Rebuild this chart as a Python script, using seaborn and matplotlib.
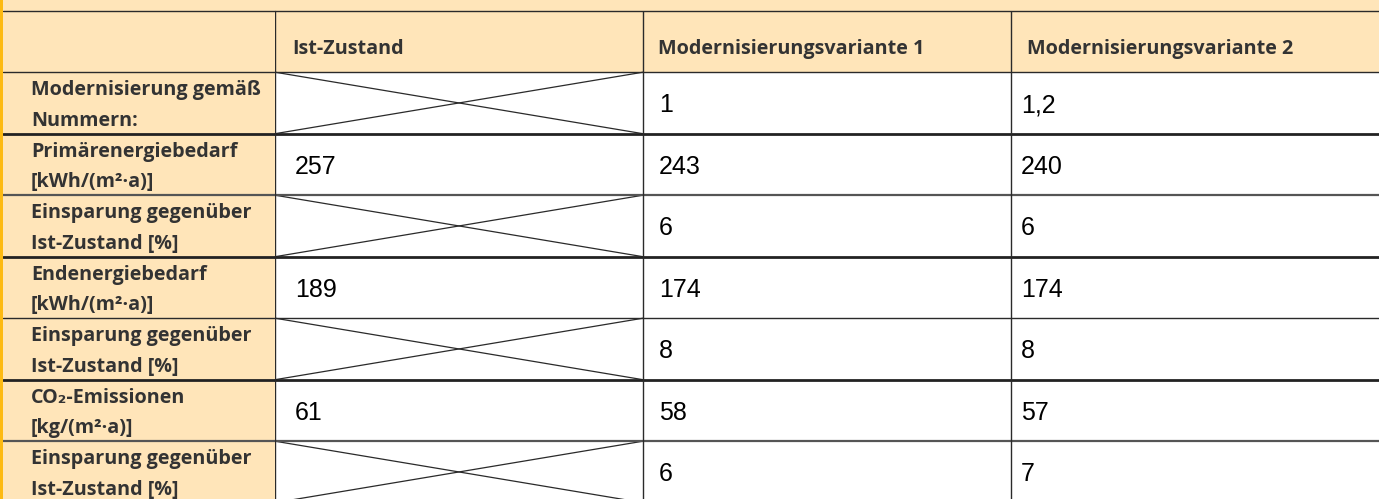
import numpy as np
import pandas as pd
import matplotlib
matplotlib.use("Agg")
import matplotlib.pyplot as plt
from matplotlib.colors import ListedColormap
from matplotlib.patches import Rectangle
import seaborn as sns

# Table content
columns = ["Ist-Zustand", "Modernisierungsvariante 1", "Modernisierungsvariante 2"]
row_labels = [
    "Modernisierung gemäß\nNummern:",
    "Primärenergiebedarf\n[kWh/(m²·a)]",
    "Einsparung gegenüber\nIst-Zustand [%]",
    "Endenergiebedarf\n[kWh/(m²·a)]",
    "Einsparung gegenüber\nIst-Zustand [%]",
    "CO₂-Emissionen\n[kg/(m²·a)]",
    "Einsparung gegenüber\nIst-Zustand [%]",
]
ist_zustand = [None, "257", None, "189", None, "61", None]
variante_1 = ["1", "243", "6", "174", "8", "58", "6"]
variante_2 = ["1,2", "240", "6", "174", "8", "57", "7"]

LIGHT = "#FFE5B9"
GOLD = "#FDBA12"
DARK = "#2a2a2a"

sns.set_theme(style="white")
label_font = ["Open Sans", "DejaVu Sans"]
value_font = ["Liberation Sans", "DejaVu Sans"]

W, H = 1379, 499
fig = plt.figure(figsize=(W / 100, H / 100), dpi=100, facecolor=LIGHT)

n_rows = len(row_labels) + 1
top_px, row_px = 10.7, 61.5
bottom_px = top_px + n_rows * row_px
col0_px, split_px = 3, 275

ax_lab = fig.add_axes([col0_px / W, 1 - bottom_px / H, (split_px - col0_px) / W, n_rows * row_px / H])
ax_tab = fig.add_axes([split_px / W, 1 - bottom_px / H, (W - split_px) / W, n_rows * row_px / H])

# background: header row orange, body white; label column all orange
df = pd.DataFrame({"Ist-Zustand": ist_zustand, "V1": variante_1, "V2": variante_2})
bg = np.zeros((n_rows, len(columns)))
bg[0, :] = 1
sns.heatmap(bg, ax=ax_tab, cmap=ListedColormap(["white", LIGHT]), cbar=False,
            vmin=0, vmax=1, xticklabels=False, yticklabels=False)
sns.heatmap(np.ones((n_rows, 1)), ax=ax_lab, cmap=ListedColormap([LIGHT]), cbar=False,
            xticklabels=False, yticklabels=False)

for ax in (ax_lab, ax_tab):
    for s in ax.spines.values():
        s.set_visible(False)

# horizontal rules (boundary index -> style)
rules = {0: (1.0, DARK), 1: (1.0, DARK), 2: (2.0, "#222222"), 3: (1.6, "#555555"),
         4: (2.0, "#222222"), 5: (1.0, DARK), 6: (2.0, "#222222"), 7: (1.6, "#555555")}
for ax in (ax_lab, ax_tab):
    for y, (lw, c) in rules.items():
        ax.axhline(y, color=c, lw=lw, clip_on=False, zorder=3)

# vertical rules
for x in range(len(columns)):
    ax_tab.axvline(x, color=DARK, lw=1.0, zorder=3)

col_w = (W - split_px) / len(columns)   # pixels per table column
lab_w = split_px - col0_px

# header
head_off = [17, 15, 16]
for j, name in enumerate(columns):
    ax_tab.text(j + head_off[j] / col_w, 0.62, name, ha="left", va="center",
                fontsize=14.2, fontweight="bold", color="#333333", family=label_font)

# row labels
for i, lab in enumerate(row_labels):
    ax_lab.text(28 / lab_w, i + 1.54, lab, ha="left", va="center", fontsize=14.2,
                fontweight="bold", color="#333333", family=label_font, linespacing=1.72)

# values and crossed cells
val_off = [20, 16, 10]
for j, col in enumerate(df.columns):
    for i, v in enumerate(df[col]):
        r = i + 1
        if v is None:
            ax_tab.plot([j, j + 1], [r, r + 1], color=DARK, lw=0.9, zorder=2)
            ax_tab.plot([j, j + 1], [r + 1, r], color=DARK, lw=0.9, zorder=2)
        else:
            ax_tab.text(j + val_off[j] / col_w, r + 0.54, v, ha="left", va="center",
                        fontsize=18, color="black", family=value_font)

# gold strip on the left edge
fig.patches.append(Rectangle((0, 0), col0_px / W, 1, transform=fig.transFigure,
                             facecolor=GOLD, edgecolor="none", zorder=5))

fig.savefig("out.png", dpi=100, facecolor=LIGHT)
